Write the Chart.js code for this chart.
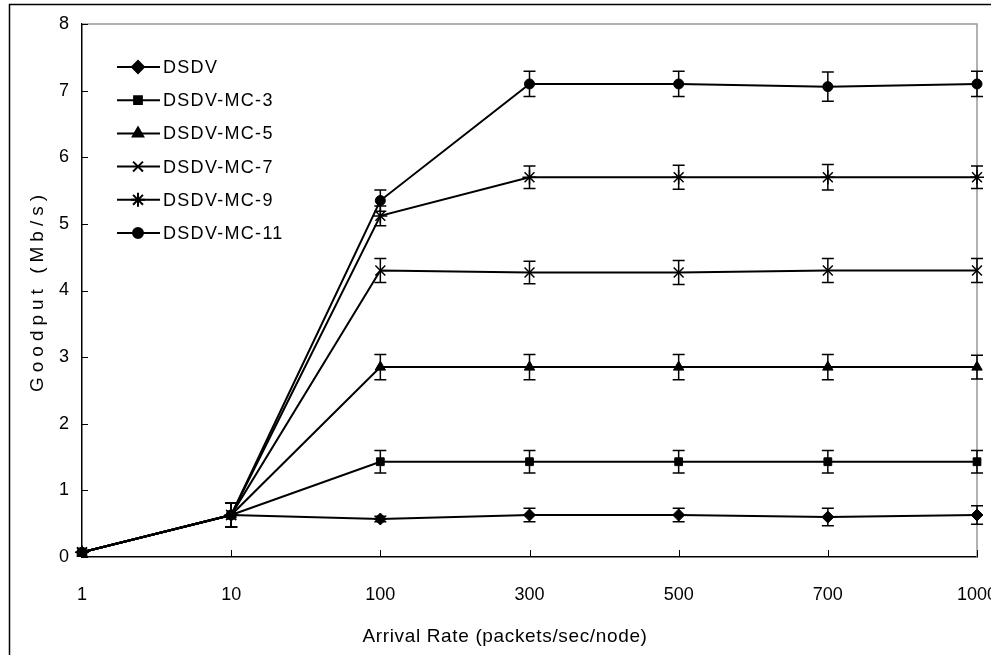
<!DOCTYPE html>
<html>
<head>
<meta charset="utf-8">
<script src="https://cdn.jsdelivr.net/npm/chart.js"></script>
<style>
  html, body { margin: 0; padding: 0; background: #fff; overflow: hidden; }
  #myChart { position: absolute; left: 0; top: 0; }
</style>
</head>
<body>
<canvas id="myChart" width="1000" height="655"></canvas>
<script>
// arrival rates (packets/sec/node)
const categories = ["1", "10", "100", "300", "500", "700", "1000"];

// goodput (Mb/s)
const dsdv     = [0.07, 0.63, 0.57, 0.63, 0.63, 0.60, 0.63];
const dsdvMc3  = [0.07, 0.63, 1.43, 1.43, 1.43, 1.43, 1.43];
const dsdvMc5  = [0.07, 0.63, 2.85, 2.85, 2.85, 2.85, 2.85];
const dsdvMc7  = [0.07, 0.63, 4.30, 4.27, 4.27, 4.30, 4.30];
const dsdvMc9  = [0.07, 0.63, 5.12, 5.70, 5.70, 5.70, 5.70];
const dsdvMc11 = [0.07, 0.63, 5.35, 7.10, 7.10, 7.06, 7.10];

// half-width of the error bars
const dsdvErr     = [0, 0.18, 0.04, 0.10, 0.10, 0.13, 0.14];
const dsdvMc3Err  = [0, 0.18, 0.17, 0.17, 0.17, 0.17, 0.17];
const dsdvMc5Err  = [0, 0.18, 0.19, 0.19, 0.19, 0.19, 0.18];
const dsdvMc7Err  = [0, 0.18, 0.18, 0.17, 0.18, 0.18, 0.18];
const dsdvMc9Err  = [0, 0.18, 0.15, 0.17, 0.18, 0.19, 0.17];
const dsdvMc11Err = [0, 0.18, 0.16, 0.19, 0.19, 0.22, 0.19];

const seriesNames = ["DSDV", "DSDV-MC-3", "DSDV-MC-5", "DSDV-MC-7", "DSDV-MC-9", "DSDV-MC-11"];
const yTicks = [0, 1, 2, 3, 4, 5, 6, 7, 8];

const FONT = "'Liberation Sans', Arial, sans-serif";

function makeSet(label, data, err, style, radius) {
  return {
    label: label,
    data: data,
    errors: err,
    borderColor: "#000",
    backgroundColor: "#000",
    borderWidth: 2,
    pointStyle: style,
    pointRadius: radius,
    pointBorderWidth: style === "crossRot" || style === "star" ? 1.5 : 1,
    tension: 0,
    fill: false,
  };
}

const datasets = [
  makeSet(seriesNames[0], dsdv, dsdvErr, "rectRot", 6),
  makeSet(seriesNames[1], dsdvMc3, dsdvMc3Err, "rect", 5.5),
  makeSet(seriesNames[2], dsdvMc5, dsdvMc5Err, "triangle", 6),
  makeSet(seriesNames[3], dsdvMc7, dsdvMc7Err, "crossRot", 7),
  makeSet(seriesNames[4], dsdvMc9, dsdvMc9Err, "star", 7),
  makeSet(seriesNames[5], dsdvMc11, dsdvMc11Err, "circle", 5),
];

// frame, inner ticks, error bars, legend and axis titles
const decorations = {
  id: "decorations",
  beforeDatasetsDraw(chart) {
    const ctx = chart.ctx, a = chart.chartArea;
    const xs = chart.scales.x, ys = chart.scales.y;
    ctx.save();
    // outer figure frame
    ctx.strokeStyle = "#000";
    ctx.lineWidth = 1.5;
    ctx.beginPath();
    ctx.moveTo(9.5, 655);
    ctx.lineTo(9.5, 4.5);
    ctx.lineTo(1000, 4.5);
    ctx.stroke();
    // grey top/right edges of plot
    ctx.strokeStyle = "#999";
    ctx.beginPath();
    ctx.moveTo(a.left, a.top);
    ctx.lineTo(a.right, a.top);
    ctx.lineTo(a.right, a.bottom);
    ctx.stroke();
    // inward tick marks
    ctx.strokeStyle = "#000";
    ctx.lineWidth = 1;
    ctx.beginPath();
    yTicks.forEach(v => {
      const y = Math.round(ys.getPixelForValue(v)) + 0.5;
      ctx.moveTo(a.left, y);
      ctx.lineTo(a.left + 6, y);
    });
    categories.forEach((c, i) => {
      const x = Math.round(xs.getPixelForValue(i)) + 0.5;
      ctx.moveTo(x, a.bottom);
      ctx.lineTo(x, a.bottom - 7);
    });
    ctx.stroke();
    ctx.restore();
  },
  afterDatasetsDraw(chart) {
    const ctx = chart.ctx, ys = chart.scales.y;
    ctx.save();
    ctx.strokeStyle = "#000";
    ctx.lineWidth = 1.5;
    chart.data.datasets.forEach((ds, di) => {
      const meta = chart.getDatasetMeta(di);
      meta.data.forEach((pt, i) => {
        const e = ds.errors[i];
        if (!e) return;
        const top = ys.getPixelForValue(ds.data[i] + e);
        const bot = ys.getPixelForValue(ds.data[i] - e);
        ctx.beginPath();
        ctx.moveTo(pt.x, top); ctx.lineTo(pt.x, bot);
        ctx.moveTo(pt.x - 6, top); ctx.lineTo(pt.x + 6, top);
        ctx.moveTo(pt.x - 6, bot); ctx.lineTo(pt.x + 6, bot);
        ctx.stroke();
      });
    });
    ctx.restore();
  },
  afterDraw(chart) {
    const ctx = chart.ctx;
    ctx.save();
    // legend inside the plot
    chart.data.datasets.forEach((ds, i) => {
      const y = 67 + i * 33.2;
      ctx.strokeStyle = "#000";
      ctx.lineWidth = 2;
      ctx.beginPath();
      ctx.moveTo(117, y); ctx.lineTo(160, y);
      ctx.stroke();
      ctx.fillStyle = "#000";
      Chart.helpers.drawPoint(ctx, {
        pointStyle: ds.pointStyle, radius: ds.pointRadius, rotation: 0,
        borderWidth: ds.pointBorderWidth,
      }, 138, y);
      ctx.fillStyle = "#000";
      ctx.font = "18px " + FONT;
      ctx.letterSpacing = "1.3px";
      ctx.textAlign = "left";
      ctx.textBaseline = "middle";
      ctx.fillText(ds.label, 163, y + 1);
    });
    // axis titles
    ctx.font = "19px " + FONT;
    ctx.fillStyle = "#000";
    ctx.textAlign = "center";
    ctx.textBaseline = "middle";
    ctx.letterSpacing = "0.65px";
    ctx.fillText("Arrival Rate (packets/sec/node)", 505, 637);
    ctx.translate(38, 291);
    ctx.rotate(-Math.PI / 2);
    ctx.letterSpacing = "5px";
    ctx.fillText("Goodput (Mb/s)", 0, 0);
    ctx.restore();
  },
};

new Chart(document.getElementById("myChart"), {
  type: "line",
  data: { labels: categories, datasets: datasets },
  options: {
    responsive: false,
    animation: false,
    layout: { padding: { top: 24, right: 23, bottom: 0, left: 0 } },
    plugins: { legend: { display: false }, tooltip: { enabled: false } },
    scales: {
      x: {
        type: "category",
        offset: false,
        grid: { display: false, drawTicks: false },
        border: { display: true, color: "#000", width: 1.5 },
        ticks: { color: "#000", padding: 27, font: { size: 18, family: FONT }, maxRotation: 0 },
        afterFit: s => { s.height = 98; s.paddingLeft = 0; s.paddingRight = 0; },
      },
      y: {
        min: 0,
        max: 8,
        grid: { display: false, drawTicks: false },
        border: { display: true, color: "#000", width: 1.5 },
        ticks: { color: "#000", stepSize: 1, padding: 13, font: { size: 18, family: FONT } },
        afterFit: s => { s.width = 82; },
      },
    },
  },
  plugins: [decorations],
});
</script>
</body>
</html>
